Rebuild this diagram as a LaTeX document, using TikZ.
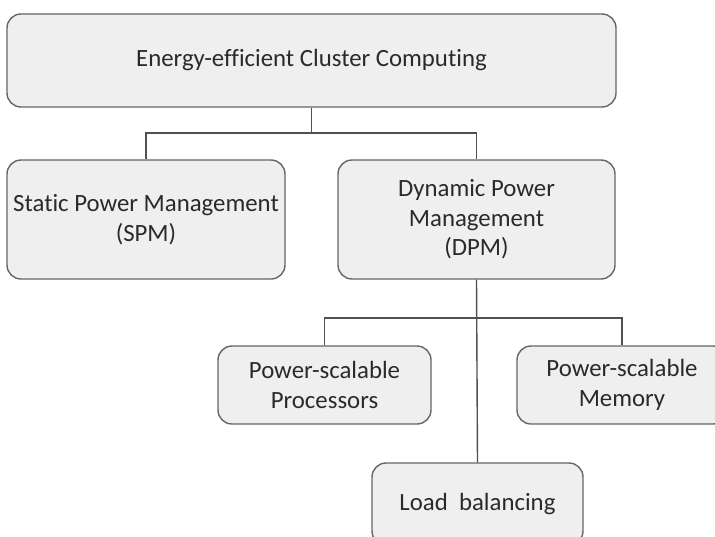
\documentclass[tikz,border=0pt]{standalone}
\usepackage{fontspec}
\setmainfont[Ligatures=NoCommon]{Carlito}
\begin{document}
\begin{tikzpicture}[x=1pt,y=-1pt,
  box/.style={draw=boxline, fill=boxfill, line width=1.4pt, rounded corners=14pt,
    align=center, text=txt, font=\fontsize{24.8}{29.5}\selectfont, inner sep=0pt},
  conn/.style={draw=lineclr, line width=1.4pt}]
\definecolor{boxline}{HTML}{666666}
\definecolor{boxfill}{HTML}{EFEFEF}
\definecolor{txt}{HTML}{2A2A2A}
\definecolor{lineclr}{HTML}{505050}
\clip (0,0) rectangle (715,536);
\fill[white] (0,0) rectangle (715,536);
\node[box, minimum width=609pt, minimum height=93pt] (top) at (311.5,60.5) {Energy-efficient Cluster Computing};
\node[box, minimum width=278pt, minimum height=119pt] (spm) at (146,219.5) {Static Power Management\\(SPM)};
\node[box, minimum width=277pt, minimum height=119pt] (dpm) at (476.5,219.5) {Dynamic Power\\Management\\(DPM)};
\node[box, minimum width=213pt, minimum height=78pt] (pp) at (324.5,385) {Power-scalable\\Processors};
\node[box, minimum width=210pt, minimum height=78pt] (pm) at (622,385) {Power-scalable\\Memory};
\node[box, minimum width=211pt, minimum height=82pt] (lb) at (477.5,504) {Load\ \ balancing};
\coordinate (j1) at (311.5,133);
\coordinate (j2) at (476.5,318);
\draw[conn] (top.south) -- (j1);
\draw[conn] (spm.north) |- (j1) -| (dpm.north);
\draw[conn] (dpm.south) -- (lb.north);
\draw[conn] (pp.north) |- (j2) -| (pm.north);
\end{tikzpicture}
\end{document}
